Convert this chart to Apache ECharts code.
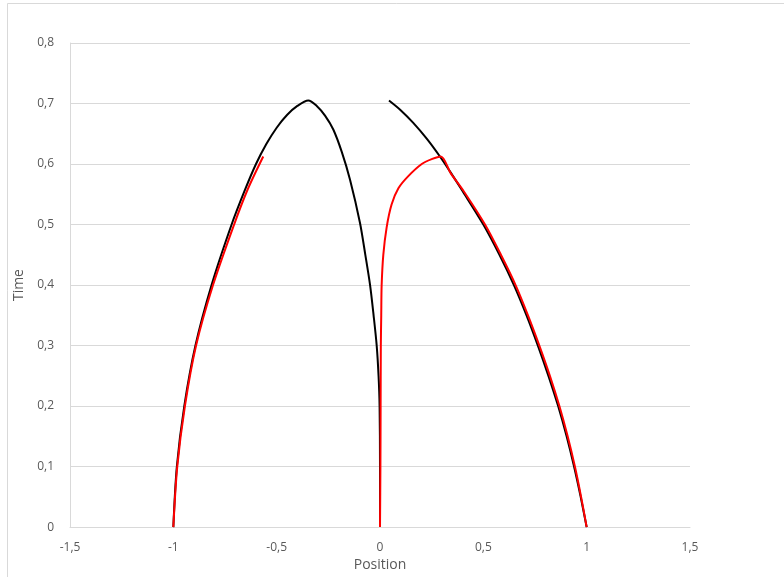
<!DOCTYPE html>
<html>
<head>
<meta charset="utf-8">
<script src="https://cdn.jsdelivr.net/npm/echarts@6/dist/echarts.min.js"></script>
<style>
  html, body { margin: 0; padding: 0; background: #fff; }
  #chart { width: 784px; height: 577px; }
</style>
</head>
<body>
<div id="chart"></div>
<script>
// [position, time] pairs
var blackLeft = [
  [-1.0, 0], [-0.983, 0.1], [-0.947, 0.2], [-0.893, 0.3], [-0.815, 0.4],
  [-0.718, 0.5], [-0.653, 0.5575], [-0.6, 0.6], [-0.55, 0.633], [-0.5, 0.66],
  [-0.45, 0.681], [-0.4, 0.696], [-0.347, 0.705],
  [-0.306, 0.696], [-0.266, 0.68], [-0.226, 0.657], [-0.185, 0.62], [-0.145, 0.574],
  [-0.097, 0.503], [-0.071, 0.45], [-0.048, 0.4], [-0.031, 0.35], [-0.016, 0.3],
  [-0.007, 0.25], [-0.002, 0.2], [0.0, 0.1], [0.0, 0]
];
var blackRight = [
  [0.0435, 0.705], [0.1, 0.689], [0.161, 0.668], [0.226, 0.642], [0.29, 0.6125],
  [0.34, 0.587], [0.4, 0.555], [0.5, 0.5], [0.578, 0.45], [0.648, 0.4],
  [0.709, 0.35], [0.764, 0.3], [0.815, 0.25], [0.862, 0.2], [0.903, 0.15],
  [0.939, 0.1], [0.971, 0.05], [1.0, 0]
];
var redLeft = [
  [-1.0, 0], [-0.981, 0.1], [-0.944, 0.2], [-0.89, 0.3], [-0.808, 0.4],
  [-0.706, 0.5], [-0.641, 0.5575], [-0.565, 0.6125]
];
var redRight = [
  [0.0, 0], [0.002, 0.1], [0.003, 0.2], [0.004, 0.3], [0.006, 0.35],
  [0.008, 0.4], [0.016, 0.45], [0.032, 0.495], [0.056, 0.533], [0.089, 0.56],
  [0.137, 0.58], [0.202, 0.6], [0.25, 0.608], [0.294, 0.6125],
  [0.342, 0.585], [0.405, 0.555], [0.508, 0.5], [0.585, 0.45], [0.656, 0.4],
  [0.716, 0.35], [0.771, 0.3], [0.822, 0.25], [0.868, 0.2], [0.908, 0.15],
  [0.943, 0.1], [0.973, 0.05], [1.0, 0]
];
var xTicks = { min: -1.5, max: 1.5, step: 0.5 };
var yTicks = { min: 0, max: 0.8, step: 0.1 };

function comma(v) {
  return String(Math.round(v * 10) / 10).replace('.', ',');
}

var chart = echarts.init(document.getElementById('chart'));
var font = 'Open Sans, Noto Sans, sans-serif';

function curve(data, color) {
  return {
    type: 'line',
    data: data,
    smooth: 0.3,
    showSymbol: false,
    symbol: 'none',
    silent: true,
    lineStyle: { color: color, width: 2 }
  };
}

chart.setOption({
  backgroundColor: '#fff',
  animation: false,
  textStyle: { fontFamily: font },
  graphic: [{
    type: 'rect',
    shape: { x: 7.5, y: 3.5, width: 800, height: 600 },
    style: { fill: 'none', stroke: '#d9d9d9', lineWidth: 1 },
    silent: true
  }],
  grid: { left: 70, right: 94, top: 43, bottom: 49, containLabel: false },
  xAxis: {
    type: 'value',
    min: xTicks.min,
    max: xTicks.max,
    interval: xTicks.step,
    name: 'Position',
    nameLocation: 'middle',
    nameGap: 30,
    nameTextStyle: { color: '#595959', fontSize: 14, fontFamily: font },
    axisLine: { show: true, onZero: false, lineStyle: { color: '#d9d9d9' } },
    axisTick: { show: false },
    splitLine: { show: false },
    axisLabel: { color: '#595959', fontSize: 12, margin: 14, formatter: comma }
  },
  yAxis: {
    type: 'value',
    min: yTicks.min,
    max: yTicks.max,
    interval: yTicks.step,
    name: 'Time',
    nameLocation: 'middle',
    nameGap: 43,
    nameTextStyle: { color: '#595959', fontSize: 14, fontFamily: font },
    axisLine: { show: true, onZero: false, lineStyle: { color: '#d9d9d9' } },
    axisTick: { show: false },
    splitLine: { show: true, lineStyle: { color: '#d9d9d9' } },
    axisLabel: { color: '#595959', fontSize: 12, margin: 16, formatter: comma }
  },
  series: [
    curve(blackLeft, '#000000'),
    curve(blackRight, '#000000'),
    curve(redLeft, '#ff0000'),
    curve(redRight, '#ff0000')
  ]
});
</script>
</body>
</html>
